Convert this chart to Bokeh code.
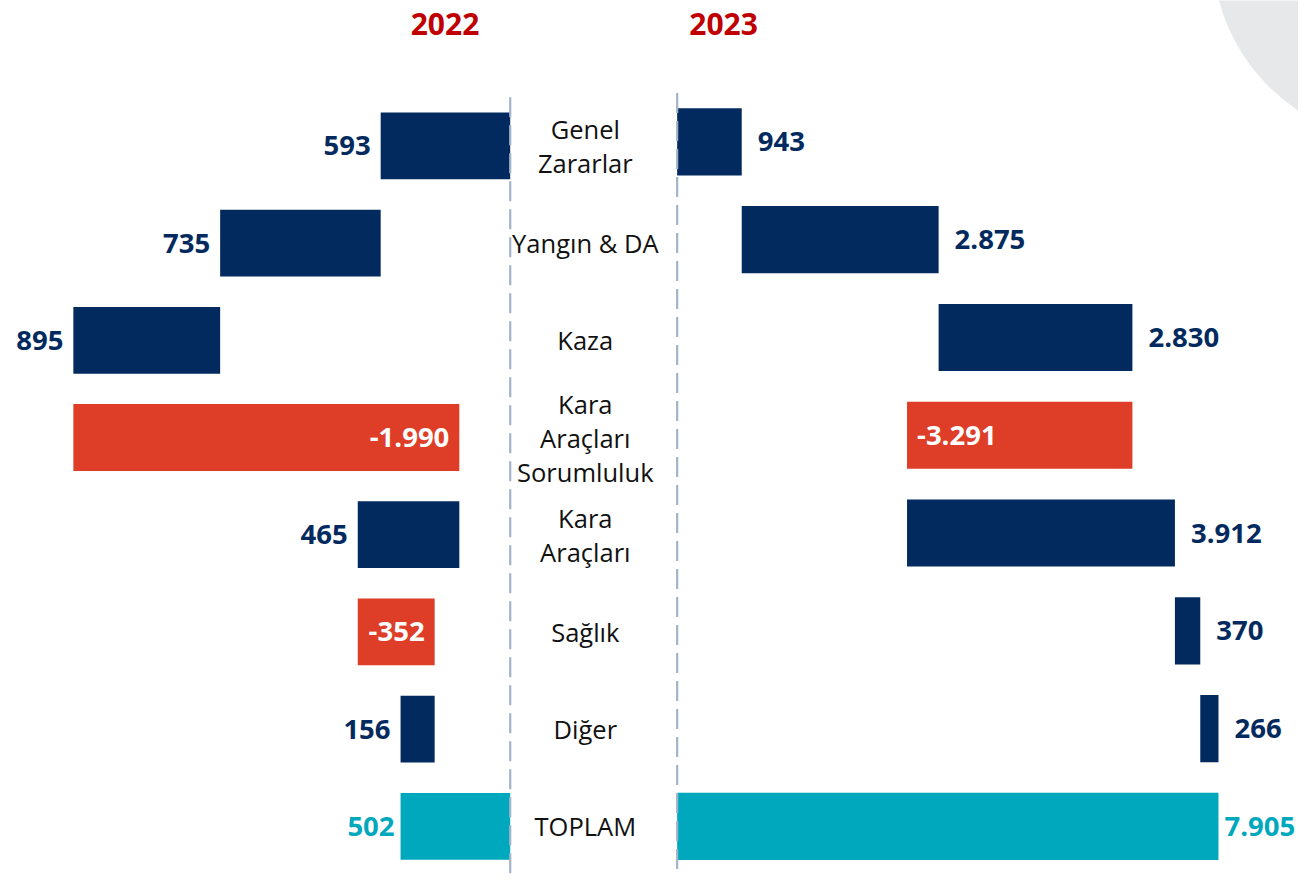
from bokeh.plotting import figure
from bokeh.models import Range1d, ColumnDataSource
from bokeh.core.properties import value
from bokeh.embed import file_html
from bokeh.resources import INLINE

# ---------------- data ----------------
categories = ["Genel\nZararlar", "Yangın & DA", "Kaza", "Kara\nAraçları\nSorumluluk",
              "Kara\nAraçları", "Sağlık", "Diğer", "TOPLAM"]
values_2022 = [593, 735, 895, -1990, 465, -352, 156, 502]
values_2023 = [943, 2875, 2830, -3291, 3912, 370, 266, 7905]
is_total = [False, False, False, False, False, False, False, True]
years = ["2022", "2023"]
axis_max_2022 = 2000   # left panel axis limit (bars are cut there)

# ---------------- style ----------------
NAVY = "#032a5e"
RED = "#de3d27"
TEAL = "#00a8bd"
TITLE_RED = "#c00000"
DASH = "#a3b3c9"
FONT = "Open Sans"

W, H = 1298, 874          # figure size
REF_W, REF_H = 1314, 890  # layout coordinate space (pixel-like)


def lin_range(zero_px, px_per_unit, lo_px, hi_px):
    """Range whose data value 0 sits at zero_px and grows by px_per_unit per unit."""
    return Range1d(start=(lo_px - zero_px) / px_per_unit, end=(hi_px - zero_px) / px_per_unit)


p = figure(width=W, height=H, output_backend="svg", toolbar_location=None,
           x_range=Range1d(0, REF_W), y_range=Range1d(REF_H, 0),
           x_axis_location=None, y_axis_location=None, min_border=0)
p.outline_line_color = None
p.grid.visible = False
p.background_fill_color = "white"
p.border_fill_color = "white"

# value scales: 2022 grows to the left from x=516, 2023 grows to the right from x=685
p.extra_x_ranges = {
    "l22": lin_range(516, -0.22112, 0, REF_W),
    "r23": lin_range(685, 0.069323, 0, REF_W),
}
# row scales (row index grows downward)
p.extra_y_ranges = {
    "yl": Range1d(start=(REF_H - 148) / 99.0, end=(0 - 148) / 99.0),
    "yr": Range1d(start=(REF_H - 144) / 99.57, end=(0 - 144) / 99.57),
}

# decorative arc in the top-right corner
p.circle(x=[1420], y=[-50], radius=193, fill_color="#e7e8ea", line_color=None)


def fmt(v):
    return f"{v:,}".replace(",", ".")


def waterfall(vals, sign, cap=None):
    rows, lo, hi, colors = [], [], [], []
    lx, ltxt, lcol, loff, lalign = [], [], [], [], []
    cum = 0
    for i, (v, tot) in enumerate(zip(vals, is_total)):
        if tot:
            a, b = 0, v
        else:
            a, b = cum, cum + v
            cum = b
        l, h = min(a, b), max(a, b)
        if cap is not None:
            h = min(h, cap)
        rows.append(i)
        lo.append(l)
        hi.append(h)
        align = "left" if sign > 0 else "right"
        if tot:
            colors.append(TEAL)
            lx.append(h); lcol.append(TEAL); loff.append(sign * 6)
        elif v < 0:
            colors.append(RED)
            lx.append(l); lcol.append("white"); loff.append(sign * 10)
        else:
            colors.append(NAVY)
            lx.append(h); lcol.append(NAVY); loff.append(sign * (10 if sign < 0 else 16))
        ltxt.append(fmt(v))
        lalign.append(align)
    bars = ColumnDataSource(dict(y=rows, left=lo, right=hi, color=colors))
    labels = ColumnDataSource(dict(x=lx, y=rows, text=ltxt, color=lcol, off=loff, align=lalign))
    return bars, labels


BAR_H = 0.687
for vals, sign, xr, yr, cap in [(values_2022, -1, "l22", "yl", axis_max_2022),
                                (values_2023, 1, "r23", "yr", None)]:
    bars, labels = waterfall(vals, sign, cap)
    p.hbar(y="y", left="left", right="right", height=BAR_H, source=bars,
           fill_color="color", line_color=None, x_range_name=xr, y_range_name=yr)
    p.text(x="x", y="y", text="text", source=labels, x_offset="off",
           text_align="align", text_baseline="middle", text_color="color",
           text_font=value(FONT), text_font_style="bold", text_font_size="27.5px",
           x_range_name=xr, y_range_name=yr)

# dashed zero lines
p.segment(x0=[0], x1=[0], y0=[-0.5], y1=[8.5], line_color=DASH, line_width=2.2,
          line_dash="20 8", x_range_name="l22", y_range_name="yl")
p.segment(x0=[0], x1=[0], y0=[-0.5], y1=[8.5], line_color=DASH, line_width=2.2,
          line_dash="20 8", x_range_name="r23", y_range_name="yr")

# category labels between the panels
cat_src = ColumnDataSource(dict(x=[592] * len(categories), y=list(range(len(categories))),
                                text=categories))
p.text(x="x", y="y", text="text", source=cat_src, text_align="center",
       text_baseline="middle", text_color="#111111", text_font=value(FONT),
       text_font_size="25.5px", text_line_height=1.0, y_range_name="yl")

# year titles
p.text(x=[450, 732], y=[24, 24], text=years, text_align="center", text_baseline="middle",
       text_color=TITLE_RED, text_font=value(FONT), text_font_style="bold",
       text_font_size="30px")

open("out.html", "w").write(file_html(p, INLINE))
